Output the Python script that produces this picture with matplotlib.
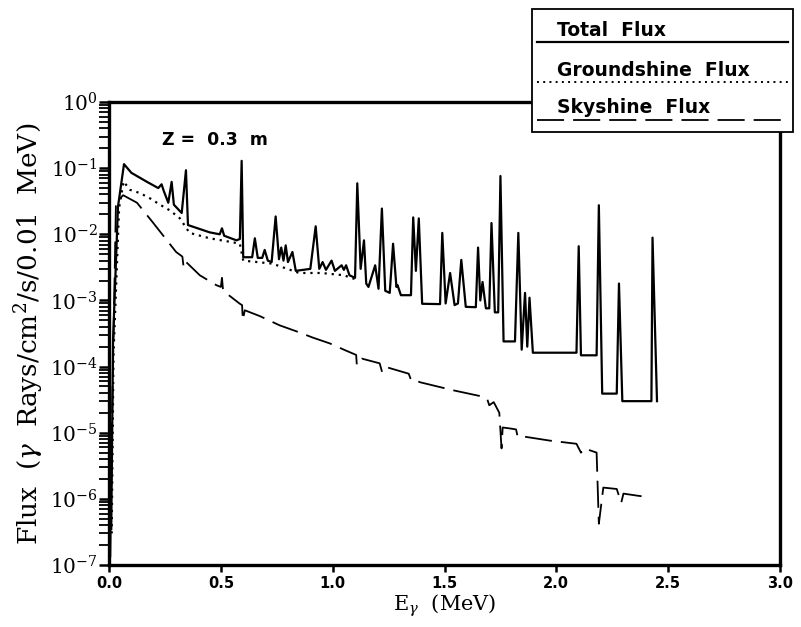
"""Gamma-ray flux spectrum at Z = 0.3 m: total, groundshine and skyshine.

Run: python plot.py
Outputs: out.png
"""
from __future__ import annotations

import matplotlib

matplotlib.use("Agg")
import matplotlib.pyplot as plt
from matplotlib.lines import Line2D
from matplotlib.patches import Rectangle
from matplotlib.ticker import FixedLocator, LogFormatterSciNotation, NullFormatter
from matplotlib.transforms import ScaledTranslation

# Total flux (photons/cm^2/s/0.01 MeV) vs energy (MeV)
total_energy = [
    0.010, 0.018, 0.040, 0.067, 0.100, 0.170, 0.220, 0.235, 0.245, 0.265,
    0.280, 0.290, 0.325, 0.344, 0.353, 0.450, 0.495, 0.505, 0.515, 0.570,
    0.585, 0.593, 0.600, 0.640, 0.652, 0.665, 0.685, 0.696, 0.710, 0.727,
    0.745, 0.760, 0.770, 0.780, 0.790, 0.800, 0.820, 0.835, 0.900, 0.924,
    0.940, 0.955, 0.970, 0.995, 1.010, 1.040, 1.050, 1.060, 1.075, 1.100,
    1.110, 1.125, 1.140, 1.150, 1.160, 1.190, 1.205, 1.220, 1.235, 1.255,
    1.270, 1.285, 1.290, 1.305, 1.350, 1.360, 1.372, 1.385, 1.400, 1.480,
    1.490, 1.505, 1.525, 1.545, 1.560, 1.575, 1.595, 1.640, 1.650, 1.660,
    1.670, 1.685, 1.700, 1.710, 1.725, 1.740, 1.750, 1.764, 1.815, 1.830,
    1.845, 1.860, 1.870, 1.880, 1.895, 2.090, 2.100, 2.110, 2.180, 2.190,
    2.205, 2.270, 2.280, 2.295, 2.425, 2.430, 2.450,
]
total_flux = [
    3.5e-7, 2.5e-4, 2.6e-2, 1.15e-1, 8.5e-2, 6.2e-2, 5.0e-2, 5.7e-2, 4.5e-2, 3.0e-2,
    6.2e-2, 2.8e-2, 2.1e-2, 9.3e-2, 1.38e-2, 1.07e-2, 1.0e-2, 1.23e-2, 9.5e-3, 8.1e-3,
    8.5e-3, 1.29e-1, 4.5e-3, 4.5e-3, 8.7e-3, 4.4e-3, 4.4e-3, 5.8e-3, 4.0e-3, 3.8e-3,
    1.86e-2, 4.2e-3, 6.3e-3, 4.0e-3, 6.8e-3, 3.8e-3, 5.4e-3, 2.8e-3, 3.0e-3, 1.32e-2,
    3.0e-3, 3.8e-3, 2.9e-3, 4.0e-3, 2.8e-3, 3.4e-3, 2.9e-3, 3.4e-3, 2.4e-3, 2.2e-3,
    5.9e-2, 3.0e-3, 8.1e-3, 1.8e-3, 1.6e-3, 3.4e-3, 1.5e-3, 2.45e-2, 1.4e-3, 1.3e-3,
    7.2e-3, 1.6e-3, 1.7e-3, 1.2e-3, 1.2e-3, 1.8e-2, 2.8e-3, 1.74e-2, 8.9e-4, 8.8e-4,
    1.05e-2, 9.0e-4, 2.6e-3, 8.5e-4, 9.0e-4, 4.1e-3, 8.0e-4, 7.9e-4, 6.3e-3, 1.0e-3,
    1.9e-3, 7.6e-4, 7.6e-4, 1.48e-2, 6.6e-4, 6.6e-4, 7.6e-2, 2.4e-4, 2.4e-4, 1.05e-2,
    1.8e-4, 1.3e-3, 2.0e-4, 1.1e-3, 1.62e-4, 1.62e-4, 6.6e-3, 1.48e-4, 1.48e-4, 2.75e-2,
    3.9e-5, 3.9e-5, 1.8e-3, 3.0e-5, 3.0e-5, 8.9e-3, 3.0e-5,
]

# Groundshine (scattered continuum from the ground); merges into the total above ~1 MeV
ground_energy = [
    0.012, 0.020, 0.045, 0.065, 0.071, 0.094, 0.138, 0.183, 0.228, 0.272,
    0.317, 0.360, 0.450, 0.550, 0.585, 0.600, 0.730, 0.850, 0.950, 1.050,
    1.100,
]
ground_flux = [
    3.0e-7, 1.5e-4, 2.5e-2, 6.3e-2, 5.9e-2, 4.7e-2, 4.2e-2, 3.5e-2, 2.8e-2, 2.3e-2,
    1.74e-2, 1.05e-2, 8.7e-3, 7.6e-3, 7.2e-3, 4.0e-3, 3.6e-3, 2.6e-3, 2.6e-3, 2.4e-3,
    2.1e-3,
]

# Skyshine (scattered from the air)
sky_energy = [
    0.006, 0.015, 0.031, 0.063, 0.125, 0.196, 0.300, 0.328, 0.333, 0.338,
    0.406, 0.480, 0.500, 0.505, 0.510, 0.585, 0.595, 0.598, 0.607, 0.674,
    0.763, 0.839, 0.910, 0.987, 1.060, 1.105, 1.108, 1.130, 1.210, 1.220,
    1.230, 1.254, 1.340, 1.350, 1.360, 1.390, 1.490, 1.536, 1.656, 1.690,
    1.700, 1.720, 1.745, 1.755, 1.760, 1.800, 1.820, 1.826, 1.835, 1.840,
    1.970, 2.090, 2.110, 2.125, 2.180, 2.190, 2.210, 2.270, 2.290, 2.300,
    2.360, 2.420,
]
sky_flux = [
    1.3e-7, 3.0e-5, 3.0e-2, 3.9e-2, 3.0e-2, 1.51e-2, 5.4e-3, 4.6e-3, 3.3e-3, 4.0e-3,
    2.4e-3, 1.7e-3, 1.6e-3, 2.2e-3, 1.4e-3, 8.9e-4, 8.5e-4, 5.0e-4, 7.1e-4, 5.8e-4,
    4.2e-4, 3.4e-4, 2.75e-4, 2.24e-4, 1.74e-4, 1.5e-4, 1.05e-4, 1.32e-4, 1.12e-4, 8.5e-5,
    1.0e-4, 9.5e-5, 7.8e-5, 6.3e-5, 6.5e-5, 5.8e-5, 4.8e-5, 4.4e-5, 3.6e-5, 3.3e-5,
    2.6e-5, 2.9e-5, 2.0e-5, 5.8e-6, 1.2e-5, 1.15e-5, 1.12e-5, 9.0e-6, 9.3e-6, 8.9e-6,
    7.6e-6, 6.8e-6, 5.0e-6, 5.8e-6, 5.0e-6, 4.2e-7, 1.48e-6, 1.41e-6, 8.7e-7, 1.2e-6,
    1.12e-6, 1.05e-6,
]

legend_labels = ["Total  Flux", "Groundshine  Flux", "Skyshine  Flux"]
x_ticks = [0.0, 0.5, 1.0, 1.5, 2.0, 2.5, 3.0]
y_decades = [-7, -6, -5, -4, -3, -2, -1, 0]

_OUTPUT_PATH = "out.png"
_SERIF = "DejaVu Serif"
_SANS = "DejaVu Sans"
_DOTTED = (0, (1.0, 2.2))
_DASHED = (0, (15, 5))


def draw_curves(ax) -> None:
    """Plot the three flux curves on log-y axes."""
    ax.plot(total_energy, total_flux, color="black", lw=1.6, zorder=3)
    ax.plot(ground_energy, ground_flux, color="black", lw=1.6,
            linestyle=_DOTTED, zorder=2)
    ax.plot(sky_energy, sky_flux, color="black", lw=1.3,
            linestyle=_DASHED, zorder=2)


def style_axes(fig, ax) -> None:
    """Log scale, ticks, spines and labels in the old plotter style."""
    ax.set_yscale("log")
    ax.set_xlim(0, 3)
    ax.set_ylim(1e-7, 1)
    ax.set_xticks(x_ticks)
    ax.set_xticklabels([f"{t:.1f}" for t in x_ticks],
                       fontfamily=_SANS, fontweight="bold", fontsize=10.5)
    # the old plotter put its x labels a little right of the ticks
    shift = ScaledTranslation(5 / 72, 0, fig.dpi_scale_trans)
    for lab in ax.get_xticklabels():
        lab.set_transform(lab.get_transform() + shift)
    ax.yaxis.set_major_locator(FixedLocator([10.0 ** d for d in y_decades]))
    ax.yaxis.set_major_formatter(LogFormatterSciNotation())
    minors = [m * 10.0 ** d for d in y_decades[:-1] for m in range(2, 10)]
    ax.yaxis.set_minor_locator(FixedLocator(minors))
    ax.yaxis.set_minor_formatter(NullFormatter())
    ax.tick_params(axis="x", which="major", direction="out", length=5,
                   width=1.8, pad=3)
    ax.tick_params(axis="y", which="major", direction="out", length=7,
                   width=1.8, labelsize=14.5, pad=1)
    ax.tick_params(axis="y", which="minor", direction="out", length=7, width=1.3)
    for spine in ax.spines.values():
        spine.set_linewidth(2.4)
    ax.set_ylabel(r"Flux  ($\gamma$  Rays/cm$^2$/s/0.01  MeV)",
                  fontfamily=_SERIF, fontsize=19, labelpad=3)
    ax.set_xlabel(r"E$_\gamma$  (MeV)", fontfamily=_SERIF, fontsize=15,
                  labelpad=1)
    ax.text(0.079, 0.918, "Z =  0.3  m", transform=ax.transAxes,
            fontfamily=_SANS, fontweight="bold", fontsize=12.5,
            va="center", ha="left")


def draw_legend(fig) -> None:
    """Boxed legend in the top-right corner, text above each line sample."""
    box = Rectangle((0.664, 0.789), 0.326, 0.197, transform=fig.transFigure,
                    facecolor="white", edgecolor="black", lw=1.3, zorder=5)
    fig.add_artist(box)
    styles = [("-", 1.6), (_DOTTED, 1.4), (_DASHED, 1.3)]
    text_y = [0.952, 0.888, 0.828]
    line_y = [0.933, 0.869, 0.809]
    for label, (ls, lw), ty, ly in zip(legend_labels, styles, text_y, line_y):
        fig.text(0.695, ty, label, fontfamily=_SANS, fontweight="bold",
                 fontsize=13.5, va="center", ha="left", zorder=6)
        fig.add_artist(Line2D([0.671, 0.984], [ly, ly], transform=fig.transFigure,
                              color="black", lw=lw, linestyle=ls, zorder=6))


def main() -> None:
    plt.rcParams["mathtext.fontset"] = "dejavuserif"
    plt.rcParams["font.family"] = _SERIF
    fig = plt.figure(figsize=(8.01, 6.27), dpi=100)
    ax = fig.add_axes([0.1361, 0.0989, 0.8377, 0.7384])
    draw_curves(ax)
    style_axes(fig, ax)
    draw_legend(fig)
    fig.savefig(_OUTPUT_PATH, dpi=100)


if __name__ == "__main__":
    main()
